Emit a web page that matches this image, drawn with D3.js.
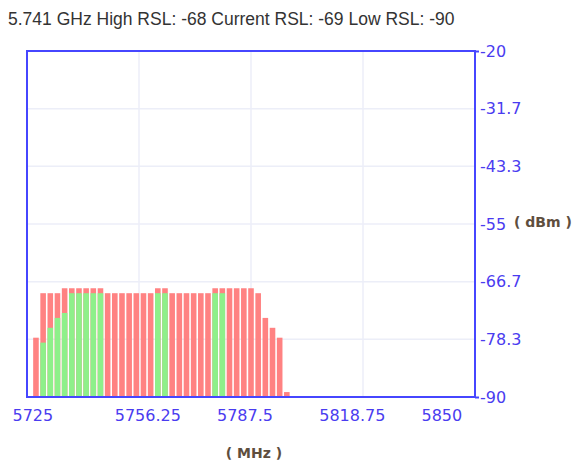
<!DOCTYPE html>
<html>
<head>
<meta charset="utf-8">
<script src="https://cdn.jsdelivr.net/npm/d3@7"></script>
<style>
  body { margin: 0; background: #fff; }
  svg { display: block; }
</style>
</head>
<body>
<div id="chart"></div>
<script>
// channel centres (MHz)
const freqs = [5727.5, 5729.5, 5731.5, 5733.5, 5735.5, 5737.5, 5739.5, 5741.5, 5743.5, 5745.5,
               5747.5, 5749.5, 5751.5, 5753.5, 5755.5, 5757.5, 5759.5, 5761.5, 5763.5, 5765.5,
               5767.5, 5769.5, 5771.5, 5773.5, 5775.5, 5777.5, 5779.5, 5781.5, 5783.5, 5785.5,
               5787.5, 5789.5, 5791.5, 5793.5, 5795.5, 5797.5];
// max-hold RSL per channel (dBm)
const highRsl = [-78, -69, -69, -69, -68, -68, -68, -68, -68, -68,
                 -69, -69, -69, -69, -69, -69, -69, -68, -68, -69,
                 -69, -69, -69, -69, -69, -68, -68, -68, -68, -68,
                 -68, -69, -74, -76, -78, -89];
// current RSL per channel (dBm), null = not shown
const currentRsl = [null, -79, -76, -74, -73, -69, -69, -69, -69, -69,
                    null, null, null, null, null, null, null, -69, -69, null,
                    null, null, null, null, null, -69, -69, null, null, null,
                    null, null, null, null, null, null];
const xTicks = [5725, 5756.25, 5787.5, 5818.75, 5850];
const yTicks = [-20, -31.7, -43.3, -55, -66.7, -78.3, -90];
const title = "5.741 GHz High RSL: -68 Current RSL: -69 Low RSL: -90";

const width = 574, height = 461;
const margin = { top: 51, right: 99, bottom: 64, left: 27 };
const innerW = width - margin.left - margin.right;
const innerH = height - margin.top - margin.bottom;

const svg = d3.select("#chart").append("svg")
    .attr("width", width)
    .attr("height", height);

svg.append("text")
    .attr("x", 8)
    .attr("y", 25)
    .attr("font-family", "Liberation Sans, Arial, sans-serif")
    .attr("font-size", 17.5)
    .attr("fill", "#333")
    .text(title);

const plot = svg.append("g")
    .attr("transform", `translate(${margin.left},${margin.top})`);

const xScale = d3.scaleLinear().domain([5725, 5850]).range([0, innerW]);
const yScale = d3.scaleLinear().domain([-90, -20]).range([innerH, 0]);
// the tick labels sit left-aligned on an evenly spread, slightly shorter run
const labelScale = d3.scaleLinear().domain([5725, 5850]).range([-15, 394]);

// grid
plot.append("g")
    .selectAll("line.v")
    .data(xTicks.slice(1, -1))
    .enter().append("line")
    .attr("x1", d => xScale(d)).attr("x2", d => xScale(d))
    .attr("y1", 0).attr("y2", innerH)
    .attr("stroke", "#eceef8").attr("stroke-width", 1.5);

plot.append("g")
    .selectAll("line.h")
    .data(yTicks.slice(1, -1))
    .enter().append("line")
    .attr("x1", 0).attr("x2", innerW)
    .attr("y1", d => yScale(d)).attr("y2", d => yScale(d))
    .attr("stroke", "#eceef8").attr("stroke-width", 1.5);

// bars
const barW = (xScale(2) - xScale(0)) * 0.78;
const bars = freqs.map((f, i) => ({ f, high: highRsl[i], cur: currentRsl[i] }));

plot.append("g")
    .selectAll("rect")
    .data(bars)
    .enter().append("rect")
    .attr("x", d => xScale(d.f) - barW / 2)
    .attr("width", barW)
    .attr("y", d => yScale(d.high))
    .attr("height", d => innerH - yScale(d.high))
    .attr("fill", "#ff8282");

plot.append("g")
    .selectAll("rect")
    .data(bars.filter(d => d.cur !== null))
    .enter().append("rect")
    .attr("x", d => xScale(d.f) - barW / 2)
    .attr("width", barW)
    .attr("y", d => yScale(d.cur))
    .attr("height", d => innerH - yScale(d.cur))
    .attr("fill", "#8ef08a");

// frame
plot.append("rect")
    .attr("x", 0).attr("y", 0)
    .attr("width", innerW).attr("height", innerH)
    .attr("fill", "none")
    .attr("stroke", "#4646ff")
    .attr("stroke-width", 2);

// right axis
const yAxis = d3.axisRight(yScale)
    .tickValues(yTicks)
    .tickSize(4)
    .tickFormat(d => d);
const yG = plot.append("g")
    .attr("transform", `translate(${innerW},0)`)
    .call(yAxis);
yG.select(".domain").remove();
yG.selectAll(".tick line")
    .attr("stroke", "#4646ff").attr("stroke-width", 2)
    .attr("opacity", d => (d === -20 || d === -90) ? 1 : 0);
yG.selectAll(".tick text")
    .attr("x", 5)
    .attr("font-family", "DejaVu Sans, Verdana, sans-serif")
    .attr("font-size", 16)
    .attr("fill", "#4a3cf0");

// bottom labels
const xAxis = d3.axisBottom(labelScale)
    .tickValues(xTicks)
    .tickSize(0)
    .tickFormat(d => d);
const xG = plot.append("g")
    .attr("transform", `translate(0,${innerH})`)
    .call(xAxis);
xG.select(".domain").remove();
xG.selectAll(".tick text")
    .attr("text-anchor", "start")
    .attr("y", 13)
    .attr("font-family", "DejaVu Sans, Verdana, sans-serif")
    .attr("font-size", 16)
    .attr("fill", "#4a3cf0");

// unit labels
svg.append("text")
    .attr("x", 514)
    .attr("y", 227)
    .attr("font-family", "DejaVu Sans, Verdana, sans-serif")
    .attr("font-weight", "bold")
    .attr("font-size", 14)
    .attr("fill", "#5e4e3e")
    .text("( dBm )");

svg.append("text")
    .attr("x", 254)
    .attr("y", 458)
    .attr("text-anchor", "middle")
    .attr("font-family", "DejaVu Sans, Verdana, sans-serif")
    .attr("font-weight", "bold")
    .attr("font-size", 14)
    .attr("fill", "#5e4e3e")
    .text("( MHz )");
</script>
</body>
</html>
